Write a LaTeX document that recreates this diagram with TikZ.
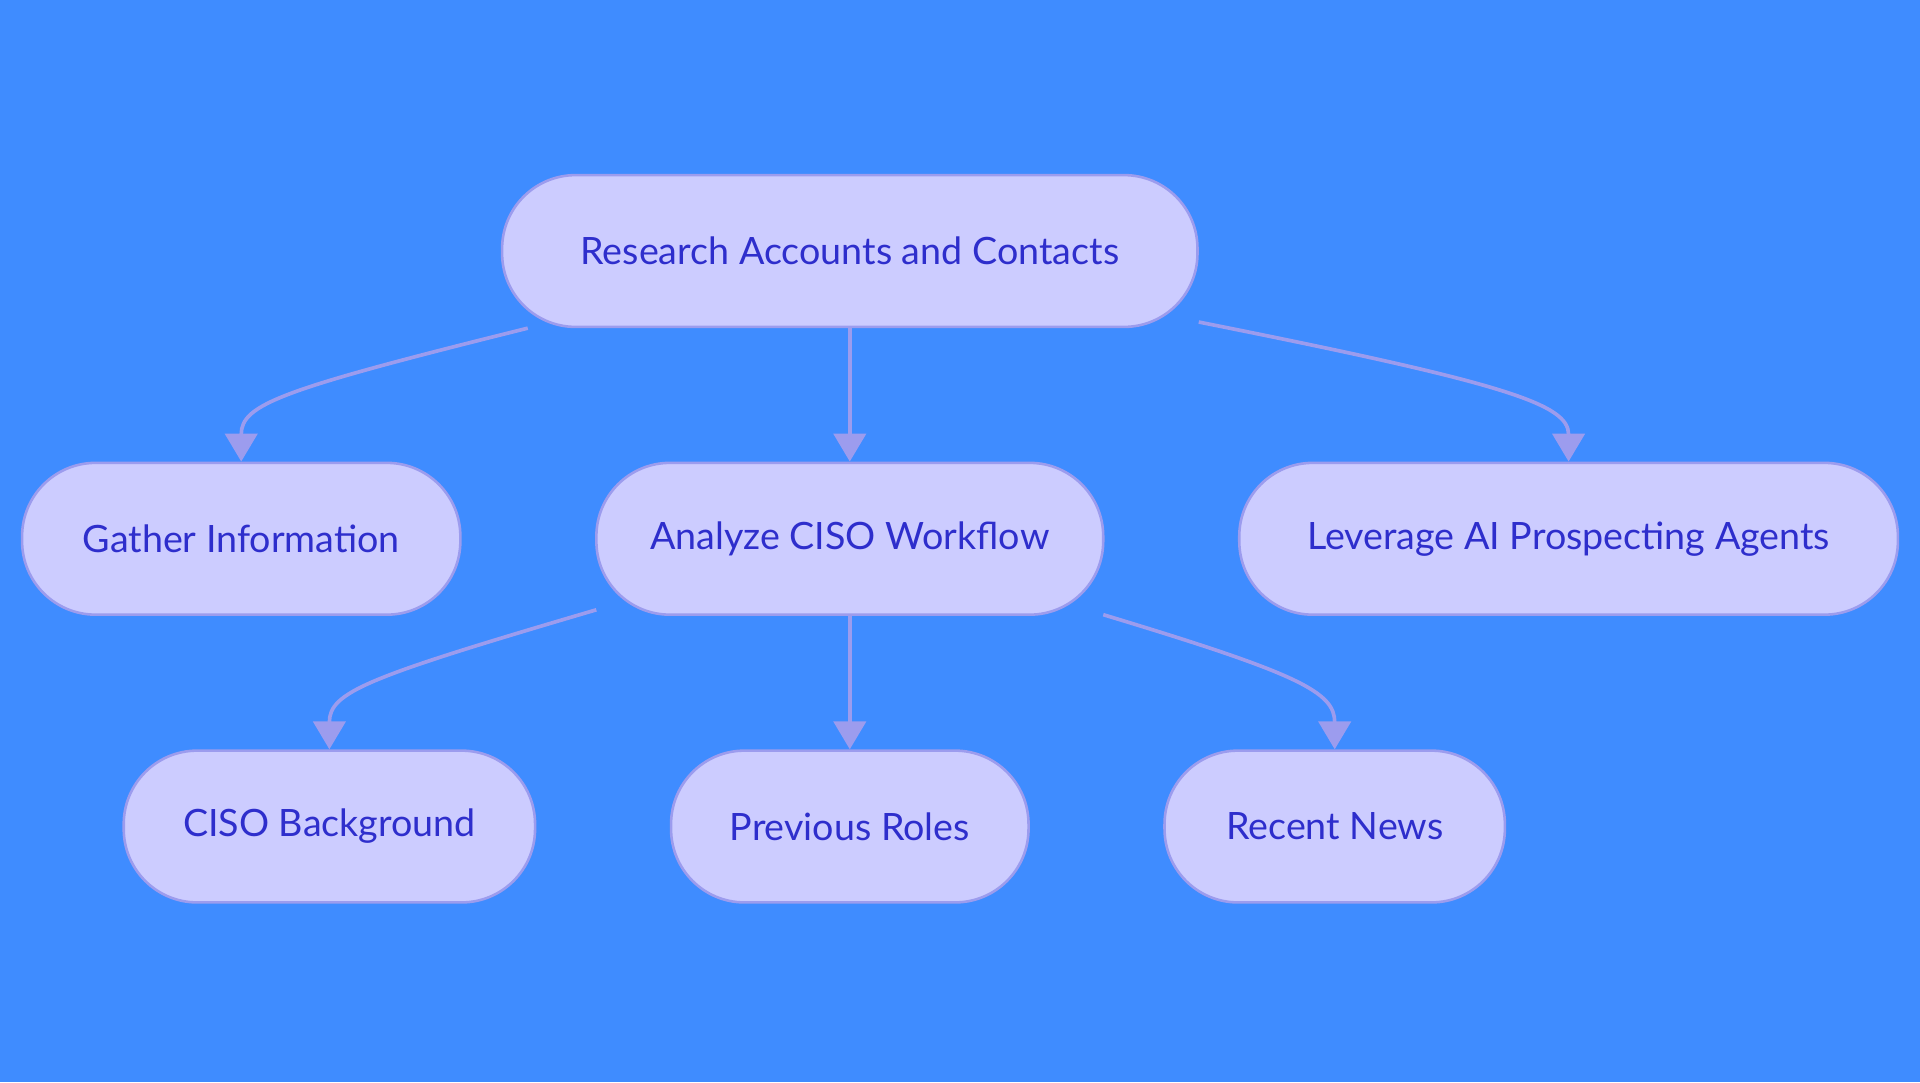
\documentclass[tikz,border=0pt]{standalone}
\usepackage{fontspec}
\setmainfont{Lato}
\usetikzlibrary{arrows.meta}
\definecolor{bg}{HTML}{3F8CFF}
\definecolor{nfill}{HTML}{CCCCFF}
\definecolor{nline}{HTML}{9C9CEE}
\definecolor{ntext}{HTML}{2E2ECC}
\begin{document}
\begin{tikzpicture}[x=0.02cm,y=-0.02cm,
 box/.style={draw=nline,line width=1.2pt,fill=nfill,rounded corners=1.2cm,minimum height=2.48cm,text=ntext,font=\fontsize{17.5}{20}\selectfont,inner sep=0pt},
 arr/.style={draw=nline,line width=1.7pt,-{Triangle[length=13pt,width=15pt]}}]
\fill[bg] (0,0) rectangle (1568,884);
\useasboundingbox (0,0) rectangle (1568,884);
\node[box,minimum width=11.36cm] (r) at (694,205) {Research Accounts and Contacts};
\node[box,minimum width=7.16cm] (g) at (197,440) {Gather Information};
\node[box,minimum width=8.28cm] (a) at (694,440) {Analyze CISO Workflow};
\node[box,minimum width=10.76cm] (l) at (1281,440) {Leverage AI Prospecting Agents};
\node[box,minimum width=6.72cm] (c) at (269,675) {CISO Background};
\node[box,minimum width=5.84cm] (p) at (694,675) {Previous Roles};
\node[box,minimum width=5.56cm] (n) at (1090,675) {Recent News};
\coordinate (r1) at (431,268);
\coordinate (r2) at (979,263);
\coordinate (a1) at (487,498);
\coordinate (a2) at (901,502);
\draw[arr] (r1) .. controls (230,318) and (197,330) .. (g.north);
\draw[arr] (r.south) -- (a.north);
\draw[arr] (r2) .. controls (1230,313) and (1281,330) .. (l.north);
\draw[arr] (a1) .. controls (300,553) and (269,565) .. (c.north);
\draw[arr] (a.south) -- (p.north);
\draw[arr] (a2) .. controls (1060,550) and (1090,565) .. (n.north);
\end{tikzpicture}
\end{document}
